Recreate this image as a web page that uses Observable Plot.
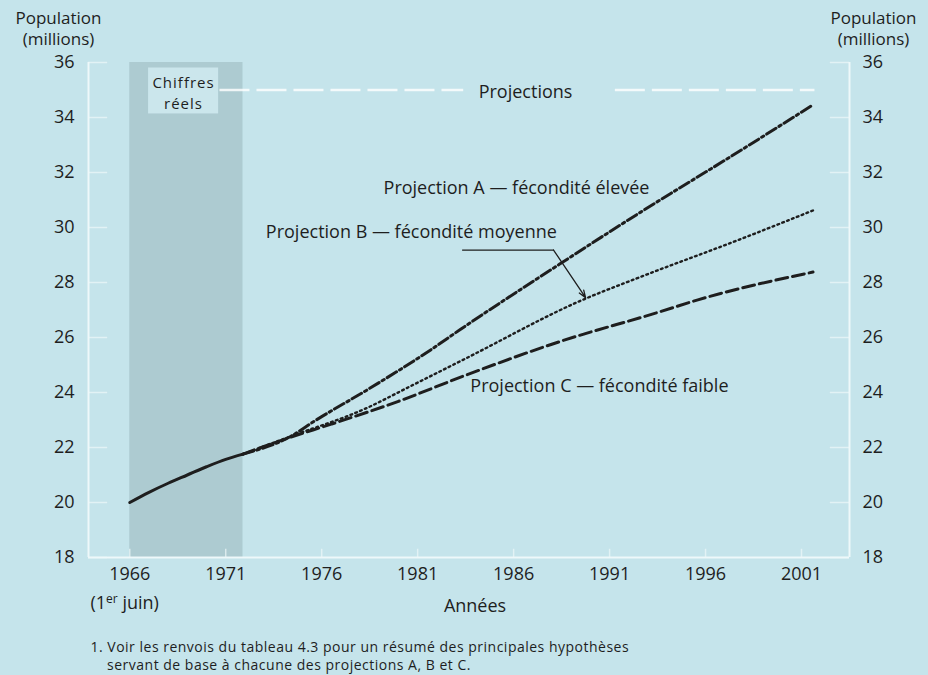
<!DOCTYPE html>
<html>
<head>
<meta charset="utf-8">
<script src="https://cdn.jsdelivr.net/npm/d3@7"></script>
<script src="https://cdn.jsdelivr.net/npm/@observablehq/plot@0.6"></script>
<style>
  html, body { margin: 0; padding: 0; background: #c5e4eb; }
  #chart svg { display: block; }
  g.foot text { letter-spacing: 0.5px; }
  g.reel text { letter-spacing: 1px; }
</style>
</head>
<body>
<div id="chart"></div>
<script>
// ---- data ----
const xDomain = [1963.85, 2003.5];
const yDomain = [18, 36];
const xTicks = [1966, 1971, 1976, 1981, 1986, 1991, 1996, 2001];
const yTicks = [18, 20, 22, 24, 26, 28, 30, 32, 34, 36];

const actualYears = [1966, 1967, 1968, 1969, 1970, 1971, 1971.9];
const actualPop   = [20.0, 20.37, 20.70, 21.0, 21.30, 21.57, 21.76];

const projAYears = [1971.9, 1974.4, 1975.6, 1978.5, 1981.7, 1983.2, 1988.4, 1992.6, 1997.8, 2001.6];
const projAPop   = [21.76, 22.41, 22.95, 24.15, 25.56, 26.28, 28.67, 30.55, 32.79, 34.46];

const projBYears = [1971.9, 1974.4, 1978.2, 1980.8, 1983.4, 1989.6, 1992.6, 1997.8, 2001.6];
const projBPop   = [21.76, 22.41, 23.39, 24.29, 25.20, 27.37, 28.20, 29.57, 30.62];

const projCYears = [1971.9, 1974.4, 1976.5, 1980.0, 1983.4, 1988.4, 1993.6, 1995.6, 2001.6];
const projCPop   = [21.76, 22.38, 22.85, 23.68, 24.60, 25.85, 26.93, 27.37, 28.38];

// shaded "actual figures" period
const actualPeriod = [1966, 1971.9];

// annotation texts and anchors (data units)
const annoText = ["Projection A \u2014 fécondité élevée", "Projection B \u2014 fécondité moyenne", "Projection C \u2014 fécondité faible", "Projections"];
const annoX = [1986.15, 1980.67, 1990.47, 1986.62];
const annoY = [31.42, 29.83, 24.22, 34.93];

const realLabel = "Chiffres\nréels";
const realLabelPos = [1968.8, 34.95];
const realBox = {x1: 1966.98, x2: 1970.63, y1: 34.13, y2: 35.8};

const projRuleY = 35.0;
const projRuleSegs = [[1970.7, 1983.4], [1991.3, 2001.7]];

const arrowPath = [[1983.34, 29.18], [1988.08, 29.18]];
const arrowTip = [[1988.08, 29.18, 1989.75, 27.45]];

const yLabel = "Population\n(millions)";
const xLabel = "Années";
const footnote = "1. Voir les renvois du tableau 4.3 pour un résumé des principales hypothèses\n    servant de base à chacune des projections A, B et C.";

// ---- build tables ----
const toRows = (xs, ys) => xs.map((x, i) => ({x, y: ys[i]}));
const actual = toRows(actualYears, actualPop);
const A = toRows(projAYears, projAPop);
const B = toRows(projBYears, projBPop);
const C = toRows(projCYears, projCPop);
const annos = annoText.map((t, i) => ({t, x: annoX[i], y: annoY[i]}));

const white = "#eef8fa";
const ink = "#1e1e1e";
const font = "Open Sans";

const chart = Plot.plot({
  width: 928,
  height: 675,
  marginTop: 62,
  marginBottom: 118,
  marginLeft: 88,
  marginRight: 79,
  x: {domain: xDomain},
  y: {domain: yDomain},
  style: {background: "#c5e4eb", fontFamily: font, fontSize: "18px", color: ink},
  marks: [
    // shaded actual period
    Plot.rect([actualPeriod], {x1: d => d[0], x2: d => d[1], y1: yDomain[0], y2: yDomain[1], fill: "#adcbd1"}),
    Plot.rect([realBox], {x1: "x1", x2: "x2", y1: "y1", y2: "y2", fill: "#cbe6ec"}),
    // frame lines
    Plot.ruleX([xDomain[0]], {stroke: white, strokeWidth: 2}),
    Plot.ruleX([xDomain[1]], {stroke: white, strokeWidth: 2}),
    Plot.ruleY([yDomain[0]], {stroke: white, strokeWidth: 2}),
    // inward ticks
    Plot.ruleY(yTicks, {x1: xDomain[0], x2: xDomain[0] + 1.0, stroke: white, strokeOpacity: 0.7, strokeWidth: 1.5}),
    Plot.ruleY(yTicks, {x1: xDomain[1] - 1.0, x2: xDomain[1], stroke: white, strokeOpacity: 0.7, strokeWidth: 1.5}),
    Plot.ruleX(xTicks, {y1: yDomain[0], y2: yDomain[0] + 0.3, stroke: white, strokeOpacity: 0.7, strokeWidth: 1.5}),
    // projections rule
    Plot.ruleY(projRuleSegs, {y: () => projRuleY, x1: d => d[0], x2: d => d[1], stroke: "#ffffff", strokeOpacity: 0.8, strokeWidth: 2.5, strokeDasharray: "30,7"}),
    // axes
    Plot.axisX({ticks: xTicks, tickSize: 0, tickPadding: 10, tickFormat: d => String(d), label: null, fontSize: 18, fill: ink}),
    Plot.axisY({anchor: "left", ticks: yTicks, tickSize: 0, tickPadding: 14, label: null, fontSize: 18, fill: ink}),
    Plot.axisY({anchor: "right", ticks: yTicks, tickSize: 0, tickPadding: 13, label: null, fontSize: 18, fill: ink}),
    // lines
    Plot.line(actual, {x: "x", y: "y", stroke: ink, strokeWidth: 3, curve: "monotone-x"}),
    Plot.line(A, {x: "x", y: "y", stroke: ink, strokeWidth: 3, strokeDasharray: "11,3.5,2.5,3.5", curve: "monotone-x"}),
    Plot.line(B, {x: "x", y: "y", stroke: ink, strokeWidth: 2.4, strokeDasharray: "1.8,3.4", curve: "monotone-x"}),
    Plot.line(C, {x: "x", y: "y", stroke: ink, strokeWidth: 3, strokeDasharray: "12,5", curve: "monotone-x"}),
    // arrow
    Plot.line(arrowPath, {x: d => d[0], y: d => d[1], stroke: ink, strokeWidth: 1.3}),
    Plot.arrow(arrowTip, {x1: d => d[0], y1: d => d[1], x2: d => d[2], y2: d => d[3], stroke: ink, strokeWidth: 1.3, headLength: 9, headAngle: 40}),
    // annotations
    Plot.text(annos, {x: "x", y: "y", text: "t", fontSize: 18, fill: ink, textAnchor: "middle"}),
    Plot.text([realLabel], {x: realLabelPos[0], y: realLabelPos[1], fontSize: 15, fill: ink, lineHeight: 1.4, textAnchor: "middle", className: "reel"}),
    // outer labels
    Plot.text([yLabel], {frameAnchor: "top-left", dx: -30, dy: -54, lineAnchor: "top", fontSize: 17, fill: ink, lineHeight: 1.25, textAnchor: "middle"}),
    Plot.text([yLabel], {frameAnchor: "top-right", dx: 24, dy: -54, lineAnchor: "top", fontSize: 17, fill: ink, lineHeight: 1.25, textAnchor: "middle"}),
    Plot.text(["(1er juin)"], {frameAnchor: "bottom-left", dx: 2, dy: 51, fontSize: 18, fill: ink, textAnchor: "start", className: "juin"}),
    Plot.text([xLabel], {frameAnchor: "bottom", dx: 6, dy: 54, fontSize: 18, fill: ink}),
    Plot.text([footnote], {frameAnchor: "bottom-left", dx: 2, dy: 98, lineAnchor: "middle", fontSize: 14, lineHeight: 1.25, fill: ink, textAnchor: "start", className: "foot"})
  ]
});

document.getElementById("chart").appendChild(chart);

// superscript "er" in "(1er juin)"
d3.select(chart).selectAll("g.juin text").each(function() {
  const t = d3.select(this);
  t.text(null);
  t.append("tspan").text("(1");
  t.append("tspan").attr("font-size", "12px").attr("dy", "-6").text("er");
  t.append("tspan").attr("dy", "6").text(" juin)");
});
</script>
</body>
</html>
